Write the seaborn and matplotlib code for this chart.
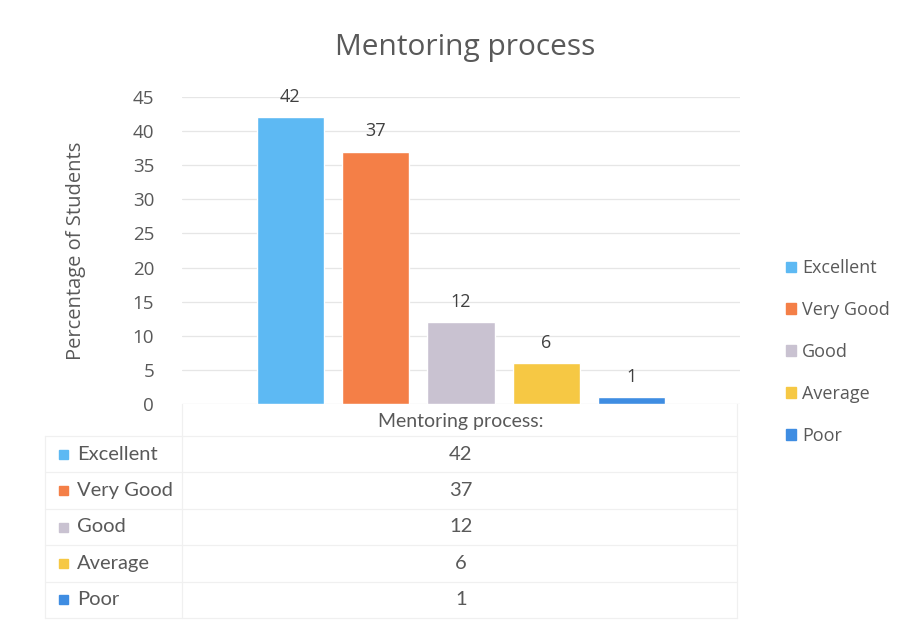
import matplotlib
matplotlib.use("Agg")
import matplotlib.pyplot as plt
import matplotlib.patches as mpatches
import seaborn as sns
import pandas as pd

# Survey results for the mentoring process
group_label = "Mentoring process:"
ratings = ["Excellent", "Very Good", "Good", "Average", "Poor"]
values = [42, 37, 12, 6, 1]
colors = ["#5DB9F3", "#F47F47", "#C9C2D1", "#F6C844", "#3F8DE2"]
y_ticks = [0, 5, 10, 15, 20, 25, 30, 35, 40, 45]

df = pd.DataFrame({"group": [group_label] * len(ratings),
                   "rating": ratings, "value": values})

sns.set_theme(style="white")
plt.rcParams["font.family"] = ["Open Sans", "DejaVu Sans"]
text_grey = "#595959"

fig = plt.figure(figsize=(9.05, 6.27), dpi=100)
fig.patch.set_facecolor("white")
ax = fig.add_axes([182 / 905, 1 - 404 / 627, 558 / 905, 307 / 627])

sns.barplot(data=df, x="group", y="value", hue="rating", hue_order=ratings,
            palette=colors, width=0.765, gap=0.21, ax=ax, legend=False,
            saturation=1)

for cont in ax.containers:
    ax.bar_label(cont, padding=8, fontsize=13, color="#404040")

ax.set_ylim(0, 45)
ax.set_xlim(-0.5, 0.5)
ax.set_yticks(y_ticks)
ax.set_yticklabels([str(t) for t in y_ticks], fontsize=13.5, color=text_grey)
ax.tick_params(axis="y", length=0, pad=20)
ax.set_xticks([])
ax.set_xlabel("")
ax.set_ylabel("Percentage of Students", fontsize=14.5, color=text_grey, labelpad=34)
ax.yaxis.grid(True, color="#E6E6E6", linewidth=0.9)
ax.set_axisbelow(True)
for s in ax.spines.values():
    s.set_visible(False)

fig.text(465 / 905, 1 - 48 / 627, "Mentoring process", ha="center", va="center",
         fontsize=21.5, color=text_grey)

# Legend on the right
handles = [mpatches.Patch(color=c, label=r) for r, c in zip(ratings, colors)]
fig.legend(handles=handles, loc="center left", bbox_to_anchor=(777 / 905, 1 - 352 / 627),
           frameon=False, fontsize=13, labelcolor=text_grey, handlelength=0.55,
           handleheight=0.55, handletextpad=0.35, labelspacing=1.32, borderpad=0)

# Data table beneath the chart
tax = fig.add_axes([0, 0, 1, 1])
tax.set_xlim(0, 905)
tax.set_ylim(627, 0)
tax.axis("off")
line_c = "#F0F0F0"
row_h = 36.4
top = 436
tax.text(461, 421, group_label, ha="center", va="center", fontsize=14,
         color=text_grey, family=["Lato", "DejaVu Sans"])
tax.plot([182, 182], [404, top + row_h * len(ratings)], color=line_c, lw=0.9)
tax.plot([737, 737], [404, top + row_h * len(ratings)], color=line_c, lw=0.9)
for i in range(len(ratings) + 1):
    y = top + i * row_h
    tax.plot([45, 737], [y, y], color=line_c, lw=0.9)
tax.plot([45, 45], [top, top + row_h * len(ratings)], color=line_c, lw=0.9)
for i, (r, v, c) in enumerate(zip(ratings, values, colors)):
    yc = top + (i + 0.5) * row_h
    tax.add_patch(mpatches.Rectangle((59, yc - 4.5), 9, 9, color=c))
    tax.text(77, yc, r, ha="left", va="center", fontsize=14.5, color=text_grey,
             family=["Lato", "DejaVu Sans"])
    tax.text(461, yc, str(v), ha="center", va="center", fontsize=14.5, color=text_grey,
             family=["Lato", "DejaVu Sans"])

fig.savefig("out.png", dpi=100, facecolor="white")
